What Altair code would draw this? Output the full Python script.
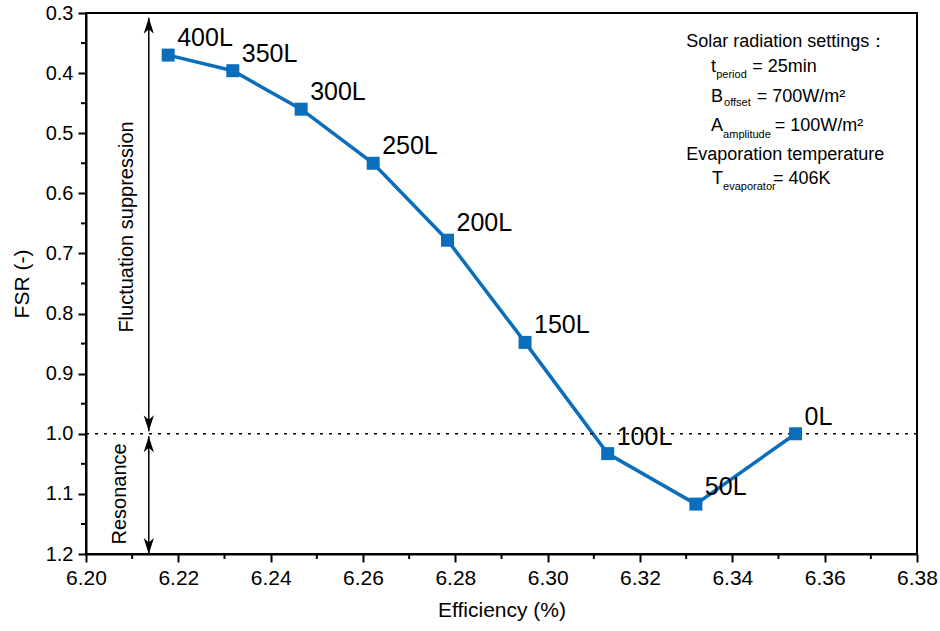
import altair as alt
import pandas as pd

# Tank capacity, efficiency (%) and fluctuation suppression ratio
capacity = ["400L", "350L", "300L", "250L", "200L", "150L", "100L", "50L", "0L"]
efficiency = [6.2178, 6.2318, 6.2466, 6.2622, 6.2783, 6.2951, 6.3130, 6.3321, 6.3537]
fsr = [0.370, 0.396, 0.460, 0.550, 0.678, 0.848, 1.033, 1.117, 1.000]

# Axis ticks: labelled (major) and unlabelled (minor)
x_major = [6.20, 6.22, 6.24, 6.26, 6.28, 6.30, 6.32, 6.34, 6.36, 6.38]
x_minor = [6.21, 6.23, 6.25, 6.27, 6.29, 6.31, 6.33, 6.35, 6.37]
y_major = [0.3, 0.4, 0.5, 0.6, 0.7, 0.8, 0.9, 1.0, 1.1, 1.2]
y_minor = [0.35, 0.45, 0.55, 0.65, 0.75, 0.85, 0.95, 1.05, 1.15]

FONT = "Liberation Sans"
BLUE = "#0A6EBD"
W, H = 831, 541

df = pd.DataFrame({"capacity": capacity, "efficiency": efficiency, "fsr": fsr})

x_axis = alt.Axis(
    title="Efficiency (%)", values=x_major, format=".2f",
    tickSize=8, labelFontSize=21, labelPadding=5,
    titleFontSize=21, titlePadding=11,
    labelOverlap=False, labelFlush=False, grid=False,
)
y_axis = alt.Axis(
    title="FSR (-)", values=y_major, format=".1f",
    tickSize=8, labelFontSize=20, labelPadding=5,
    titleFontSize=21, titlePadding=13,
    labelOverlap=False, labelFlush=False, grid=False,
)

x_scale = alt.Scale(domain=[6.20, 6.38], nice=False, zero=False)
y_scale = alt.Scale(domain=[0.3, 1.2], reverse=True, nice=False, zero=False)

X = alt.X("efficiency:Q", axis=x_axis, scale=x_scale)
Y = alt.Y("fsr:Q", axis=y_axis, scale=y_scale)

base = alt.Chart(df)

# Data series
line = base.mark_line(color=BLUE, strokeWidth=3.5).encode(x=X, y=Y)
points = base.mark_point(shape="square", filled=True, color=BLUE, size=169, opacity=1).encode(
    x=X, y=Y
)
labels = base.mark_text(
    align="left", baseline="middle", dx=9, dy=-17, fontSize=25, font=FONT, color="black"
).encode(x=X, y=Y, text="capacity:N")

# Minor ticks drawn just outside the axis lines
minor_x = alt.Chart(pd.DataFrame({"efficiency": x_minor})).mark_rule(
    color="black", strokeWidth=2
).encode(x=X, y=alt.value(H), y2=alt.value(H + 5))
minor_y = alt.Chart(pd.DataFrame({"fsr": y_minor})).mark_rule(
    color="black", strokeWidth=2
).encode(y=Y, x=alt.value(0), x2=alt.value(-5))

# FSR = 1 reference line
ref_line = alt.Chart(pd.DataFrame({"fsr": [1.0]})).mark_rule(
    color="black", strokeWidth=1.5, strokeDash=[3, 6]
).encode(y=Y)

# Double-headed arrows marking the two regimes
arrow_x = 6.2136
arrows = pd.DataFrame({
    "efficiency": [arrow_x, arrow_x],
    "fsr": [0.308, 1.004],
    "fsr_end": [0.996, 1.200],
})
arrow_lines = alt.Chart(arrows).mark_rule(color="black", strokeWidth=1.5).encode(
    x=X, y=Y, y2="fsr_end:Q"
)
UP = "M0,0 L0.32,1 L0,0.72 L-0.32,1 Z"
DOWN = "M0,0 L0.32,-1 L0,-0.72 L-0.32,-1 Z"
heads_up = alt.Chart(arrows).mark_point(
    shape=UP, filled=True, color="black", size=1024, opacity=1, strokeWidth=0
).encode(x=X, y=Y)
heads_down = alt.Chart(arrows).mark_point(
    shape=DOWN, filled=True, color="black", size=1024, opacity=1, strokeWidth=0
).encode(x=X, y=alt.Y("fsr_end:Q", axis=y_axis, scale=y_scale))

regime_text = pd.DataFrame({
    "label": ["Fluctuation suppression", "Resonance"],
    "efficiency": [6.2089, 6.2074],
    "fsr": [0.656, 1.100],
})
regimes = alt.Chart(regime_text).mark_text(
    angle=270, align="center", baseline="middle", fontSize=20, font=FONT, color="black"
).encode(x=X, y=Y, text="label:N")

# Settings note (main text and subscripts)
note = pd.DataFrame({
    "t": ["Solar radiation settings：",
          "t", "period", "= 25min",
          "B", "offset", "= 700W/m²",
          "A", "amplitude", "= 100W/m²",
          "Evaporation temperature",
          "T", "evaporator", "= 406K"],
    "efficiency": [6.3300,
                   6.3354, 6.3365, 6.3443,
                   6.3354, 6.3382, 6.3453,
                   6.3354, 6.3380, 6.3492,
                   6.3300,
                   6.3356, 6.3380, 6.3488],
    "fsr": [0.3482,
            0.3898, 0.4031, 0.3898,
            0.4397, 0.4497, 0.4397,
            0.4880, 0.5030, 0.4880,
            0.5362,
            0.5762, 0.5895, 0.5762],
    "size": [18,
             18, 11, 18,
             18, 11, 18,
             18, 11, 18,
             18,
             18, 11, 18],
})
note_text = alt.Chart(note).mark_text(
    align="left", baseline="middle", font=FONT, color="black"
).encode(
    x=X, y=Y, text="t:N",
    size=alt.Size("size:Q", scale=None, legend=None),
)

chart = alt.layer(
    line, ref_line, arrow_lines, heads_up, heads_down, regimes,
    minor_x, minor_y, points, labels, note_text
).properties(
    width=W,
    height=H,
    padding={"left": 86, "top": 13, "right": 23, "bottom": 77},
    autosize="none",
    background="white",
).configure_view(
    stroke="black", strokeWidth=2
).configure_axis(
    domainColor="black", domainWidth=2, tickColor="black", tickWidth=2,
    labelColor="black", titleColor="black", labelFont=FONT, titleFont=FONT,
    titleFontWeight="normal",
)

chart.save("out.html", embed_options={"renderer": "svg", "actions": False})
